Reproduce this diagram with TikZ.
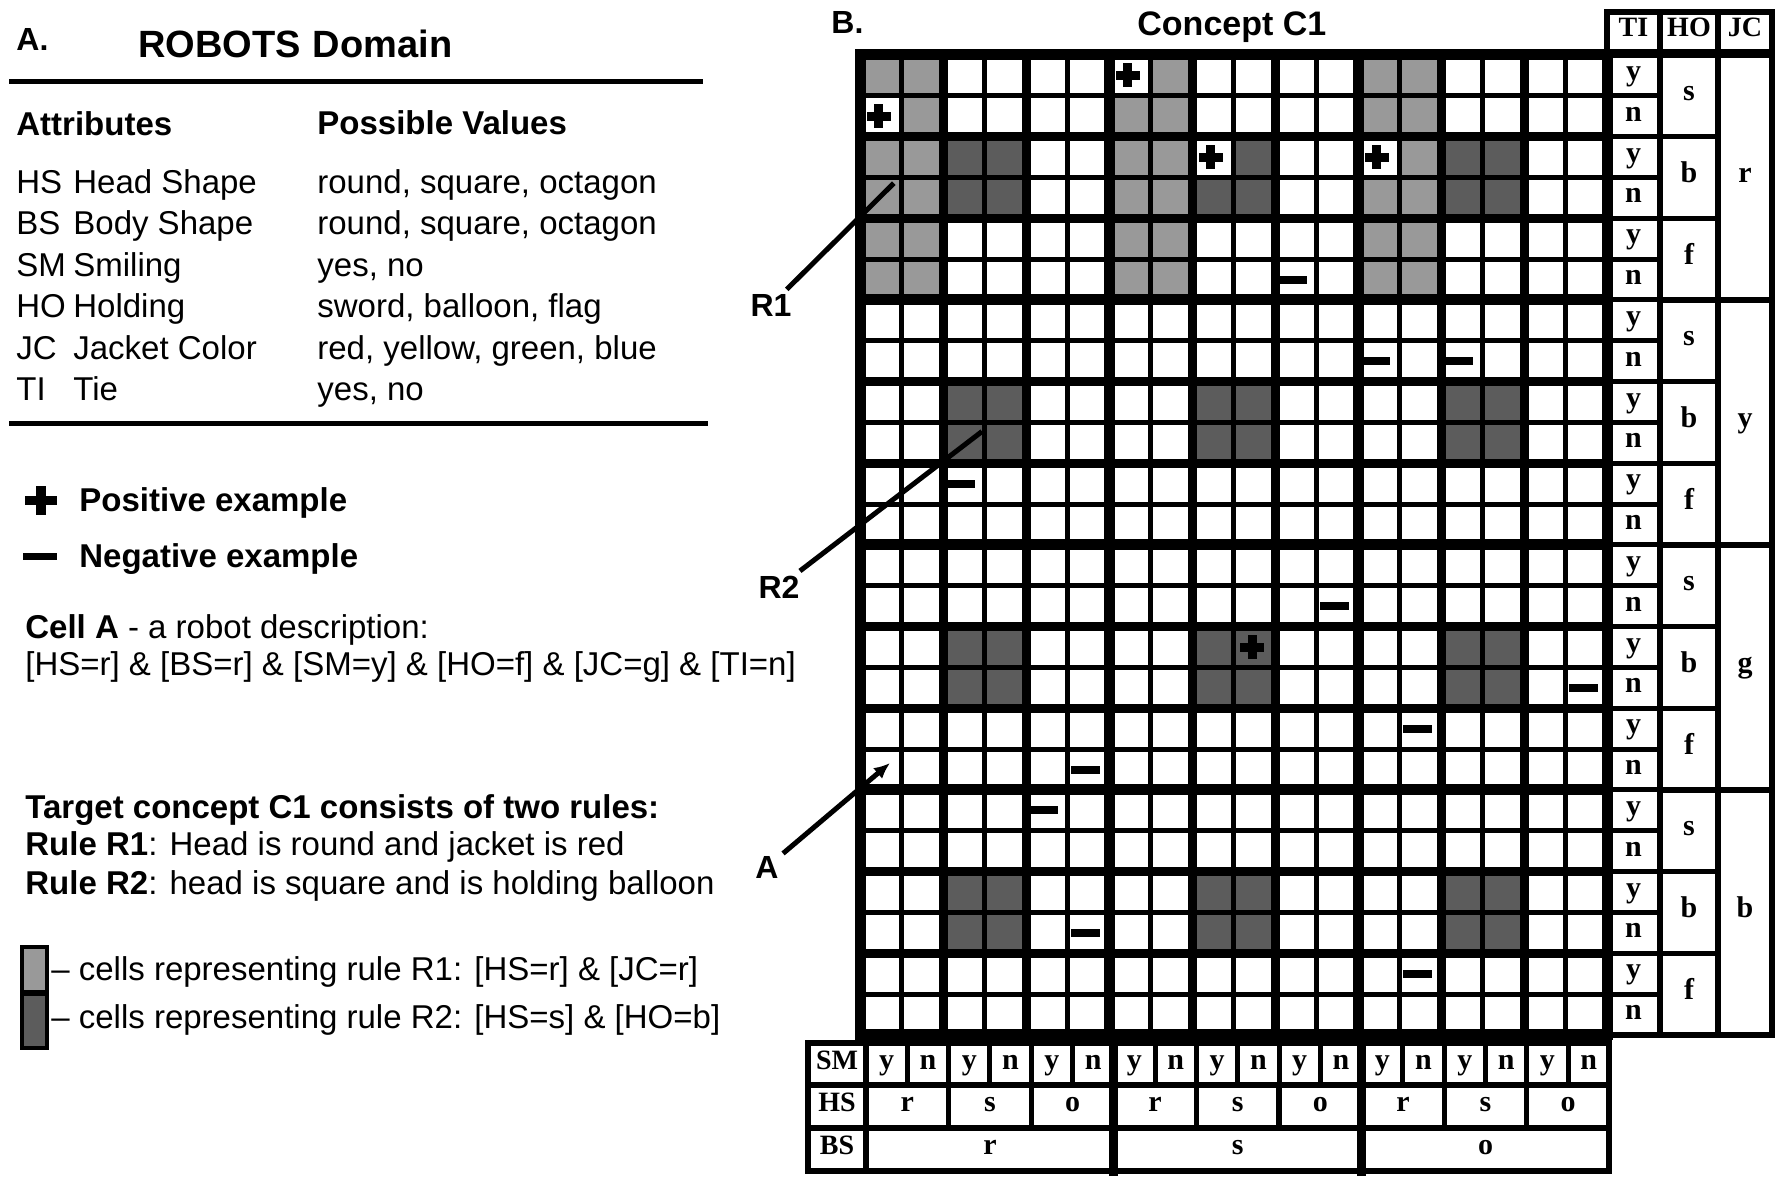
\documentclass[tikz,border=0pt]{standalone}
\usepackage{fontspec}
\setmainfont{Liberation Sans}
\newfontfamily\cellfont{Liberation Serif}
\usetikzlibrary{calc,positioning,arrows.meta}
\definecolor{RuleOneGray}{gray}{0.6}
\definecolor{RuleTwoGray}{gray}{0.36}
\newcommand\gridx{860}
\newcommand\gridy{55}
\newcommand\colw{41.5}
\newcommand\rowh{40.83}
\newcommand\tabx{866}
\newcommand\tabw{41.3}

\begin{document}
\begin{tikzpicture}[x=0.5pt,y=-0.5pt,line cap=rect,line join=miter,
  txt/.style={anchor=base west,inner sep=0pt,font=\fontsize{16.5}{18}\selectfont},
  btxt/.style={txt,font=\bfseries\fontsize{16.5}{18}\selectfont},
  letter/.style={inner sep=0pt,text height=0.7em,text depth=0.2em,font=\cellfont\bfseries\fontsize{15}{15}\selectfont},
  header/.style={letter,font=\cellfont\bfseries\fontsize{14}{14}\selectfont},
  tag/.style={inner sep=3pt,font=\bfseries\fontsize{16}{16}\selectfont},
  cellline/.style={line width=2.5pt},
  hsline/.style={line width=4.5pt},
  bsline/.style={line width=5.5pt},
  boxline/.style={line width=2.6pt},
  pointer/.style={line width=2.5pt}]
  \useasboundingbox (0,0) rectangle (1777,1177);

  % panel A: domain table
  \node[btxt,font=\bfseries\fontsize{16}{16}\selectfont] (headA) at (16,51) {A.};
  \node[btxt,font=\bfseries\fontsize{19}{19}\selectfont] (title) at (138,58) {ROBOTS\hspace{6pt}Domain};
  \draw[line width=2.5pt] (11,82) -- (700,82);
  \node[btxt] (attr) at (16,135) {Attributes};
  \node[btxt] (vals) at (317,134) {Possible Values};
  \foreach \ab/\nm/\vl [count=\k from 0] in {HS/Head Shape/{round, square, octagon},BS/Body Shape/{round, square, octagon},SM/Smiling/{yes, no},HO/Holding/{sword, balloon, flag},JC/Jacket Color/{red, yellow, green, blue},TI/Tie/{yes, no}}{
    \node[txt] (ab\k) at (16,{193+41.5*\k}) {\ab};
    \node[txt] (nm\k) at (73,{193+41.5*\k}) {\nm};
    \node[txt] (vl\k) at (317,{193+41.5*\k}) {\vl};
  }
  \draw[line width=2.5pt] (11,423) -- (705,423);

  % legend and text
  \fill (25,496) rectangle (57,505); \fill (36,486) rectangle (46,515);
  \fill (23,553) rectangle (57,560);
  \node[btxt] (pos) at (79,511) {Positive example};
  \node[btxt] (neg) at (79,567) {Negative example};
  \node[txt] (cellA) at (25,638) {\textbf{Cell A} - a robot description:};
  \node[txt] (descr) at (25,675) {[HS=r] \& [BS=r] \& [SM=y] \& [HO=f] \& [JC=g] \& [TI=n]};
  \node[btxt] (target) at (25,818) {Target concept C1 consists of two rules:};
  \node[txt] (ruleI) at (25,855) {\textbf{Rule R1}: Head is round and jacket is red};
  \node[txt] (ruleII) at (25,894) {\textbf{Rule R2}: head is square and is holding balloon};
  \filldraw[fill=RuleOneGray,line width=2pt] (22,947) rectangle (47,992);
  \filldraw[fill=RuleTwoGray,line width=2pt] (22,994) rectangle (47,1048);
  \node[txt] (keyI) at (51,980) {-- cells representing rule R1: [HS=r] \& [JC=r]};
  \node[txt] (keyII) at (51,1028) {-- cells representing rule R2: [HS=s] \& [HO=b]};

  % panel B: the diagram
  \node[btxt,font=\bfseries\fontsize{16}{16}\selectfont] (headB) at (831,34) {B.};
  \node[btxt,font=\bfseries\fontsize{17}{17}\selectfont] (concept) at (1137,36) {Concept C1};

  \foreach \c in {0,1,6,7,12,13}\foreach \r in {0,...,5}
    \fill[RuleOneGray] ({\gridx+\c*\colw},{\gridy+\r*\rowh}) rectangle +(\colw,\rowh);
  \foreach \c in {2,3,8,9,14,15}\foreach \r in {2,3,8,9,14,15,20,21}
    \fill[RuleTwoGray] ({\gridx+\c*\colw},{\gridy+\r*\rowh}) rectangle +(\colw,\rowh);
  \foreach \c/\r in {0/1,6/0,8/2,12/2}
    \fill[white] ({\gridx+\c*\colw},{\gridy+\r*\rowh}) rectangle +(\colw,\rowh);

  \foreach \i in {1,...,17} \draw[cellline] ({\gridx+\i*\colw},\gridy) -- ++(0,{24*\rowh});
  \foreach \j in {1,...,23} \draw[cellline] (\gridx,{\gridy+\j*\rowh}) -- ++({18*\colw},0);
  \foreach \i in {2,4,...,16} \draw[hsline] ({\gridx+\i*\colw},\gridy) -- ++(0,{24*\rowh});
  \foreach \j in {2,4,...,22} \draw[hsline] (\gridx,{\gridy+\j*\rowh}) -- ++({18*\colw},0);
  \foreach \i in {6,12} \draw[bsline] ({\gridx+\i*\colw},\gridy) -- ++(0,{24*\rowh});
  \foreach \j in {6,12,18} \draw[bsline] (\gridx,{\gridy+\j*\rowh}) -- ++({18*\colw},0);
  \draw[line width=5.5pt] (\gridx,\gridy) rectangle ++({18*\colw},{24*\rowh});

  % positive and negative examples
  \foreach \c/\r in {0/1,6/0,8/2,12/2,9/14}{
    \coordinate (pl) at ({\gridx+(\c+0.45)*\colw},{\gridy+(\r+0.5)*\rowh});
    \fill ($(pl)+(-12,-4.5)$) rectangle ($(pl)+(12,4.5)$);
    \fill ($(pl)+(-4.5,-12)$) rectangle ($(pl)+(4.5,12)$);
  }
  \foreach \c/\r in {10/5,12/7,14/7,2/10,11/13,17/15,13/16,5/17,4/18,5/21,13/22}
    \fill ({\gridx+\c*\colw+3},{\gridy+(\r+0.5)*\rowh-4}) rectangle +(29,8);

  % TI / HO / JC
  \draw[boxline] (1607,12) rectangle (1772,52) (1660,12) -- (1660,52) (1718,12) -- (1718,52);
  \node[header] (hTI) at (1633.5,32) {TI};
  \node[header] (hHO) at (1689,32) {HO};
  \node[header] (hJC) at (1745,32) {JC};
  \draw[boxline] (1607,\gridy) rectangle (1772,{\gridy+24*\rowh})
    (1660,\gridy) -- ++(0,{24*\rowh}) (1718,\gridy) -- ++(0,{24*\rowh});
  \foreach \j in {1,...,23} \draw[cellline] (1607,{\gridy+\j*\rowh}) -- (1660,{\gridy+\j*\rowh});
  \foreach \j in {2,4,...,22} \draw[boxline] (1660,{\gridy+\j*\rowh}) -- (1718,{\gridy+\j*\rowh});
  \foreach \j in {6,12,18} \draw[boxline] (1718,{\gridy+\j*\rowh}) -- (1772,{\gridy+\j*\rowh});
  \foreach \j in {0,2,...,22}{
    \pgfmathtruncatemacro\k{\j+1}
    \node[letter] (ti\j) at (1633.5,{\gridy+(\j+0.5)*\rowh}) {y};
    \node[letter] (ti\k) at (1633.5,{\gridy+(\k+0.5)*\rowh}) {n};
  }
  \foreach \v [count=\k from 0] in {s,b,f,s,b,f,s,b,f,s,b,f}
    \node[letter] (ho\k) at (1689,{\gridy+(2*\k+1)*\rowh}) {\v};
  \foreach \v [count=\k from 0] in {r,y,g,b}
    \node[letter] (jc\k) at (1745,{\gridy+(6*\k+3)*\rowh}) {\v};

  % SM / HS / BS
  \draw[boxline] (808,1043) rectangle (1609,1171)
    (808,1085) -- (1609,1085) (808,1128) -- (1609,1128) (\tabx,1043) -- (\tabx,1171);
  \foreach \i in {1,...,17} \draw[cellline] ({\tabx+\i*\tabw},1043) -- (\tabx+\i*\tabw,1085);
  \foreach \i in {2,4,...,16} \draw[boxline] ({\tabx+\i*\tabw},1085) -- (\tabx+\i*\tabw,1128);
  \foreach \i in {6,12} \draw[hsline] ({\tabx+\i*\tabw},1043) -- (\tabx+\i*\tabw,1171);
  \node[header] (lSM) at (837,1064) {SM};
  \node[header] (lHS) at (837,1106.5) {HS};
  \node[header] (lBS) at (837,1149.5) {BS};
  \foreach \i in {0,2,...,16}{
    \pgfmathtruncatemacro\k{\i+1}
    \node[letter] (sm\i) at ({\tabx+(\i+0.5)*\tabw},1064) {y};
    \node[letter] (sm\k) at ({\tabx+(\k+0.5)*\tabw},1064) {n};
  }
  \foreach \v [count=\k from 0] in {r,s,o,r,s,o,r,s,o}
    \node[letter] (hs\k) at ({\tabx+(2*\k+1)*\tabw},1106.5) {\v};
  \foreach \v [count=\k from 0] in {r,s,o}
    \node[letter] (bs\k) at ({\tabx+(6*\k+3)*\tabw},1149.5) {\v};

  % pointers
  \node[tag] (lRI) at (771,305) {R1};
  \node[tag] (lRII) at (779,587) {R2};
  \node[tag] (lA) at (767,867) {A};
  \coordinate (endRI) at (892,185);
  \coordinate (endRII) at (980,433);
  \coordinate (endA) at (890,763);
  \draw[pointer] (lRI) -- (endRI);
  \draw[pointer] (lRII) -- (endRII);
  \draw[pointer,-{Latex[length=8pt,width=7pt]}] (lA) -- (endA);
\end{tikzpicture}
\end{document}
